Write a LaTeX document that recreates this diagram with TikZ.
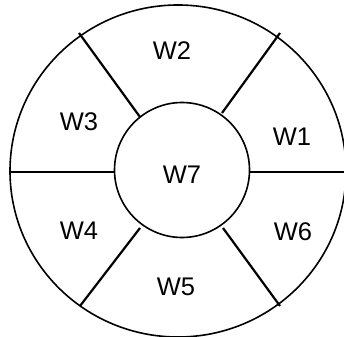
\documentclass[tikz,border=0pt]{standalone}
\usepackage{fontspec}
\setmainfont{Liberation Sans}
\begin{document}
\begin{tikzpicture}[x=1pt,y=-1pt,
  ring/.style={line width=1.6pt},
  spoke/.style={line width=2.2pt},
  lbl/.style={font=\fontsize{25.5}{25.5}\selectfont, inner sep=0pt}]
\useasboundingbox (0,0) rectangle (344,336);
\clip (0,0) rectangle (344,336);
\fill[white] (0,0) rectangle (344,336);
\draw[ring] (178,171) ellipse [x radius=168, y radius=166];
\draw[ring] (182,170) circle [radius=67.5];
\coordinate (o3) at (10,172);   \coordinate (i3) at (115,172);
\coordinate (o1) at (346,172);  \coordinate (i1) at (250,172);
\coordinate (otl) at (79,33);   \coordinate (itl) at (140,117);
\coordinate (otr) at (280,33);  \coordinate (itr) at (222,113);
\coordinate (obl) at (80,306);  \coordinate (ibl) at (140,228);
\coordinate (obr) at (280,306); \coordinate (ibr) at (223,228);
\draw[spoke] (o3) -- (i3);
\draw[spoke] (i1) -- (o1);
\draw[spoke] (otl) -- (itl);
\draw[spoke] (otr) -- (itr);
\draw[spoke] (obl) -- (ibl);
\draw[spoke] (obr) -- (ibr);
\node[lbl] (w2) at (172,51) {W2};
\node[lbl] (w3) at (79,122) {W3};
\node[lbl] (w1) at (292,137) {W1};
\node[lbl] (w7) at (182,175) {W7};
\node[lbl] (w4) at (79,231) {W4};
\node[lbl] (w6) at (293,232) {W6};
\node[lbl] (w5) at (176,287) {W5};
\end{tikzpicture}
\end{document}
